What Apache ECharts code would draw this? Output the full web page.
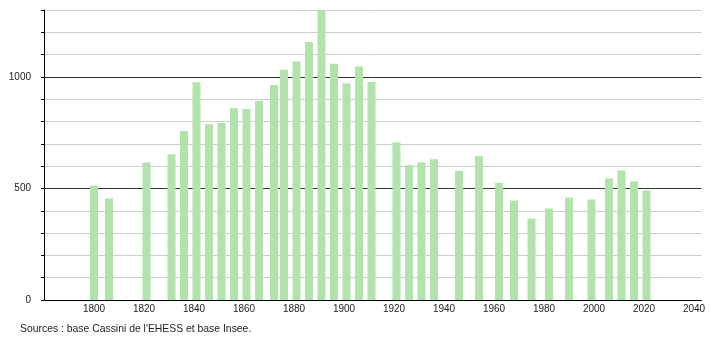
<!DOCTYPE html>
<html>
<head>
<meta charset="utf-8">
<script src="https://cdn.jsdelivr.net/npm/echarts@6/dist/echarts.min.js"></script>
<style>html,body{margin:0;padding:0;background:#fff}#c{width:710px;height:340px}</style>
</head>
<body>
<div id="c"></div>
<script>
var years = [1800, 1806, 1821, 1831, 1836, 1841, 1846, 1851, 1856, 1861, 1866, 1872, 1876, 1881, 1886, 1891, 1896, 1901, 1906, 1911, 1921, 1926, 1931, 1936, 1946, 1954, 1962, 1968, 1975, 1982, 1990, 1999, 2006, 2011, 2016, 2021];
var population = [513, 455, 616, 653, 758, 976, 788, 793, 860, 856, 892, 964, 1032, 1069, 1156, 1296, 1059, 972, 1047, 977, 706, 604, 617, 631, 578, 646, 525, 446, 365, 410, 459, 450, 545, 580, 532, 491];
var yLabels = [0, 500, 1000];
var xLabels = [1800, 1820, 1840, 1860, 1880, 1900, 1920, 1940, 1960, 1980, 2000, 2020, 2040];
var sourceText = "Sources : base Cassini de l'EHESS et base Insee.";

var chart = echarts.init(document.getElementById('c'), null, {renderer: 'canvas'});
var font = 'Liberation Sans';
chart.setOption({
  animation: false,
  grid: {left: 44, right: 8.5, top: 10, bottom: 40, containLabel: false},
  graphic: [{
    type: 'text', left: 20, top: 324,
    style: {text: sourceText, fill: '#222', font: '10.4px "Liberation Sans"'}
  }],
  xAxis: {
    type: 'value', min: 1780, max: 2043, interval: 20,
    axisLine: {show: true, lineStyle: {color: '#000', width: 1}},
    axisTick: {show: false},
    splitLine: {show: false},
    axisLabel: {
      color: '#222', fontFamily: font, fontSize: 10, margin: 4,
      customValues: xLabels,
      formatter: function (v) { return xLabels.indexOf(v) >= 0 ? String(v) : ''; }
    }
  },
  yAxis: {
    type: 'value', min: 0, max: 1300, interval: 100,
    axisLine: {show: true, lineStyle: {color: '#000', width: 1}},
    axisTick: {show: true, length: 3, lineStyle: {color: '#000'}},
    splitLine: {show: true, lineStyle: {color: ['#333', '#ccc', '#ccc', '#ccc', '#ccc'], width: 1}},
    axisLabel: {
      color: '#222', fontFamily: font, fontSize: 10, margin: 13,
      formatter: function (v) { return yLabels.indexOf(v) >= 0 ? String(v) : ''; }
    }
  },
  series: [{
    type: 'bar', barWidth: 8,
    itemStyle: {color: '#b2e3ac'},
    data: years.map(function (y, i) { return [y, population[i]]; })
  }]
});
</script>
</body>
</html>
